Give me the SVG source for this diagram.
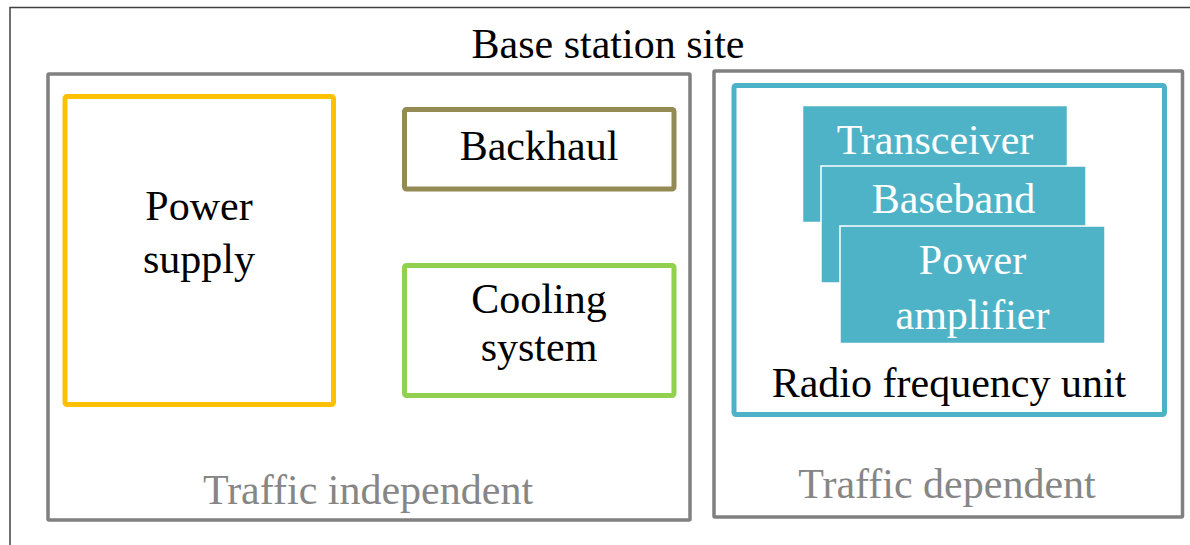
<svg xmlns="http://www.w3.org/2000/svg" width="1190" height="545" viewBox="0 0 1190 545">
<style>
text{font-family:"Liberation Serif",serif;font-size:42px;text-anchor:middle;fill:#000}
.gray{fill:none;stroke:#808080;stroke-width:3.5}
.lbl{fill:#868686}
.wt{fill:#fff}
.card{fill:#4FB3C8;stroke:#fff;stroke-width:1.5}
</style>
<rect width="1190" height="545" fill="#fff"/>
<g font-family="Liberation Serif, serif">
<g id="site">
<rect x="10" y="7.5" width="1200" height="560" fill="none" stroke="#404040" stroke-width="1.5"/>
<text x="608" y="58">Base station site</text>
</g>
<g id="traffic-independent">
<rect class="gray" x="48" y="74" width="642" height="446" rx="1"/>
<text class="lbl" x="368" y="504">Traffic independent</text>
</g>
<g id="traffic-dependent">
<rect class="gray" x="714" y="71" width="468.5" height="446" rx="1"/>
<text class="lbl" x="947" y="498">Traffic dependent</text>
</g>
<g id="power-supply">
<rect x="65" y="96.5" width="268.5" height="308" rx="2" fill="none" stroke="#FFC000" stroke-width="5"/>
<text x="199" y="220">Power</text>
<text x="199" y="273">supply</text>
</g>
<g id="backhaul">
<rect x="404.5" y="109.5" width="269.5" height="79.5" rx="2" fill="none" stroke="#948A54" stroke-width="5"/>
<text x="539" y="160">Backhaul</text>
</g>
<g id="cooling">
<rect x="404.5" y="265.5" width="269.5" height="130" rx="2" fill="none" stroke="#92D050" stroke-width="5"/>
<text x="539" y="313">Cooling</text>
<text x="539" y="361">system</text>
</g>
<g id="rf-unit">
<rect x="734" y="85.5" width="430.5" height="329" rx="2" fill="none" stroke="#4BB2C7" stroke-width="5"/>
<text x="949" y="397">Radio frequency unit</text>
</g>
<g id="transceiver">
<rect class="card" x="802.5" y="105.5" width="265" height="117"/>
<text class="wt" x="935" y="154">Transceiver</text>
</g>
<g id="baseband">
<rect class="card" x="821" y="166" width="265" height="117"/>
<text class="wt" x="953.5" y="213">Baseband</text>
</g>
<g id="power-amplifier">
<rect class="card" x="840" y="226" width="265" height="117.5"/>
<text class="wt" x="972.5" y="274">Power</text>
<text class="wt" x="972.5" y="329">amplifier</text>
</g>
<g id="connectors"></g>
</g>
</svg>
